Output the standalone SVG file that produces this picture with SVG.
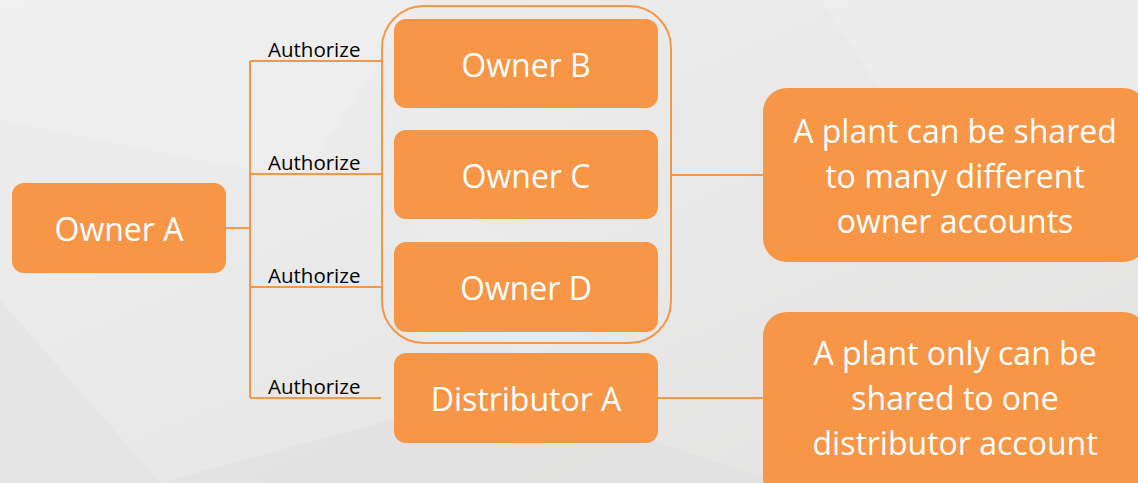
<svg xmlns="http://www.w3.org/2000/svg" width="1138" height="483" viewBox="0 0 1138 483">
<defs>
<linearGradient id="bg" x1="0" y1="0" x2="1" y2="1">
<stop offset="0" stop-color="#eeeeee"/>
<stop offset="1" stop-color="#e4e3e2"/>
</linearGradient>
</defs>
<style>
.box{fill:#F79646;}
.t{font-family:"Open Sans","Liberation Sans",sans-serif;font-size:32px;fill:#ffffff;text-anchor:middle;}
.lbl{font-family:"Open Sans","Liberation Sans",sans-serif;font-size:20.5px;fill:#000000;}
.ln{stroke:#F79646;stroke-width:2;fill:none;}
</style>
<rect width="1138" height="483" fill="url(#bg)"/>
<g opacity="0.5">
<polygon points="0,0 420,0 300,180 0,120" fill="#f1f1f1"/>
<polygon points="0,300 160,483 0,483" fill="#e2e2e2"/>
<polygon points="160,483 500,390 780,483" fill="#e0dfdf"/>
<polygon points="820,0 1138,0 1138,90 900,120" fill="#f0f0f0"/>
<polygon points="380,180 660,300 520,360" fill="#ececec"/>
</g>
<g id="connectors">
<path class="ln" d="M226,228 H250 M250,61 V398 M250,61 H381 M250,174 H381 M250,287 H381 M250,398 H381"/>
<path class="ln" d="M671,175 H763"/>
<path class="ln" d="M658,398 H763"/>
<text class="lbl" x="268" y="57">Authorize</text>
<text class="lbl" x="268" y="170">Authorize</text>
<text class="lbl" x="268" y="283">Authorize</text>
<text class="lbl" x="268" y="394">Authorize</text>
</g>
<g id="owner-group">
<rect x="382" y="6" width="289" height="337" rx="42" ry="42" class="ln"/>
</g>
<g id="owner-a">
<rect class="box" x="12" y="183" width="214" height="90" rx="12"/>
<text class="t" x="119" y="241">Owner A</text>
</g>
<g id="owner-b">
<rect class="box" x="394" y="19" width="264" height="89" rx="12"/>
<text class="t" x="526" y="77">Owner B</text>
</g>
<g id="owner-c">
<rect class="box" x="394" y="130" width="264" height="89" rx="12"/>
<text class="t" x="526" y="188">Owner C</text>
</g>
<g id="owner-d">
<rect class="box" x="394" y="242" width="264" height="90" rx="12"/>
<text class="t" x="526" y="300">Owner D</text>
</g>
<g id="distributor-a">
<rect class="box" x="394" y="353" width="264" height="90" rx="12"/>
<text class="t" x="526" y="411">Distributor A</text>
</g>
<g id="note-owners">
<rect class="box" x="763" y="88" width="384" height="174" rx="24"/>
<text class="t" x="955" y="143">A plant can be shared</text>
<text class="t" x="955" y="188">to many different</text>
<text class="t" x="955" y="233">owner accounts</text>
</g>
<g id="note-distributor">
<rect class="box" x="763" y="312" width="384" height="190" rx="24"/>
<text class="t" x="955" y="365">A plant only can be</text>
<text class="t" x="955" y="410">shared to one</text>
<text class="t" x="955" y="455">distributor account</text>
</g>
</svg>
